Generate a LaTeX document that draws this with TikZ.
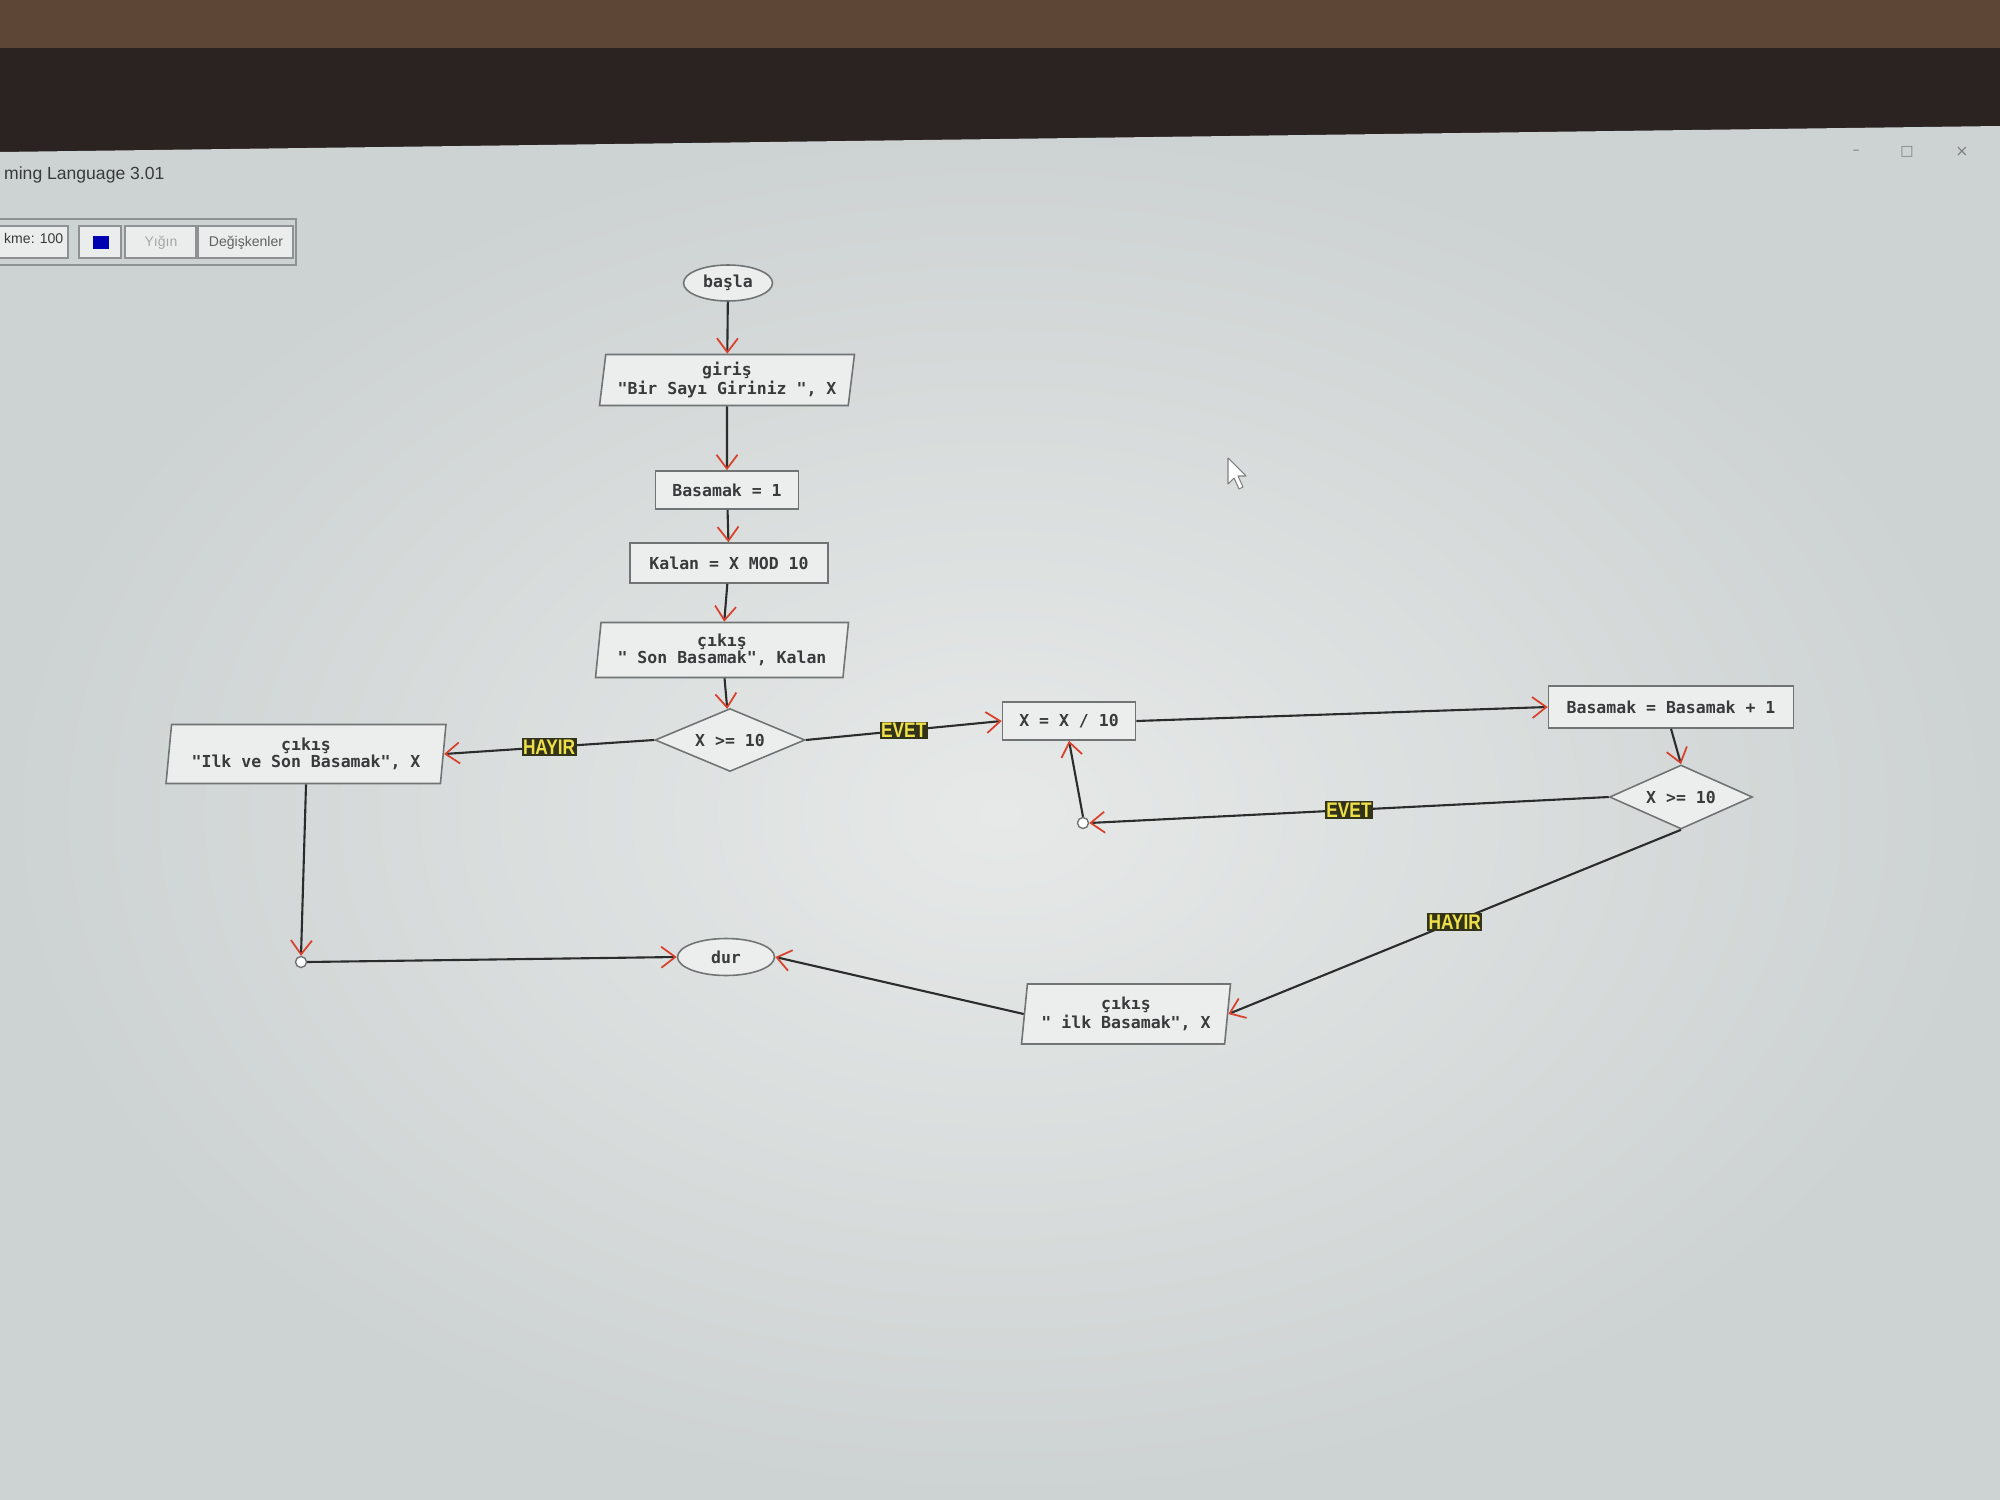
\documentclass[tikz,border=0pt]{standalone}
\usepackage{fontspec}
\setmainfont{Liberation Sans}
\newfontfamily\chartfont{DejaVu Sans Mono}
\newfontfamily\lblfont[FakeStretch=0.82]{Liberation Sans}
\newfontfamily\symfont{DejaVu Sans}
\usetikzlibrary{shapes.geometric,arrows.meta}

\definecolor{screenin}{HTML}{E6E9E8}
\definecolor{screenout}{HTML}{CDD2D2}
\definecolor{bezel}{HTML}{2A2322}
\definecolor{room}{HTML}{5E4637}
\definecolor{boxfill}{HTML}{ECEEED}
\definecolor{boxline}{HTML}{707474}
\definecolor{txtgray}{HTML}{383B3B}
\definecolor{linegray}{HTML}{2B2D2D}
\definecolor{arrowred}{HTML}{D8412C}
\definecolor{lblbg}{HTML}{33331A}
\definecolor{lblyel}{HTML}{EEE04A}
\definecolor{barline}{HTML}{8E9292}

\tikzset{
  proc/.style={draw=boxline, line width=0.9pt, fill=boxfill, rectangle, inner sep=0pt,
    font=\chartfont\bfseries\fontsize{9.4}{9.4}\selectfont, text=txtgray},
  io/.style={proc, trapezium, trapezium left angle=80, trapezium right angle=100,
    trapezium stretches body, align=center},
  term/.style={proc, ellipse},
  cond/.style={proc, diamond, aspect=2.4},
  junc/.style={circle, draw=boxline, line width=0.8pt, fill=white, minimum size=0.22cm, inner sep=0pt},
  flow/.style={draw=linegray, line width=1.2pt,
    -{Straight Barb[color=arrowred, length=0.28cm, width=0.42cm, line width=1pt]}},
  yesno/.style={fill=lblbg, text=lblyel, inner xsep=0.8pt, inner ysep=0.8pt,
    font=\lblfont\bfseries\fontsize{12}{12}\selectfont},
  tbtn/.style={draw=barline, line width=0.8pt, fill=screenin!80!white}
}

\begin{document}
\begin{tikzpicture}[x=0.02cm, y=-0.02cm]
  \useasboundingbox (0,0) rectangle (2000,1500);

  % room, bezel and screen
  \fill[room] (0,0) rectangle (2000,50);
  \fill[bezel] (0,48) rectangle (2000,155);
  \shade[inner color=screenin, outer color=screenout] (0,152) -- (2000,126) -- (2000,1500) -- (0,1500) -- cycle;

  % window title and toolbar
  \node[anchor=west, text=txtgray, font=\fontsize{10}{10}\selectfont] (title) at (-2,175) {ming Language 3.01};
  \node[text=gray, font=\symfont\fontsize{8}{8}\selectfont] (wmin) at (1856,152) {–};
  \node[text=gray, font=\symfont\fontsize{8}{8}\selectfont] (wmax) at (1907,152) {□};
  \node[text=gray, font=\symfont\fontsize{9}{9}\selectfont] (wclose) at (1962,152) {×};
  \draw[barline, line width=0.8pt] (-2,219) rectangle (296,265);
  \draw[tbtn] (-2,226) rectangle (68,258);
  \node[anchor=west, text=txtgray, font=\fontsize{8}{8}\selectfont] (speed) at (-2,238) {kme: 100};
  \draw[tbtn] (79,226) rectangle (121,258);
  \fill[blue!70!black] (93,236) rectangle (109,249);
  \draw[tbtn] (125,226) rectangle (196,258);
  \node[text=gray!70, font=\fontsize{8}{8}\selectfont] (stack) at (161,243) {Yığın};
  \draw[tbtn] (198,226) rectangle (293,258);
  \node[text=txtgray!80, font=\fontsize{8}{8}\selectfont] (vars) at (246,243) {Değişkenler};

  % mouse pointer
  \draw[gray, fill=white, line width=0.6pt, line join=round] (1228,458) -- (1228,484) -- (1234,478)
    -- (1239,489) -- (1243,487) -- (1238,476) -- (1246,476) -- cycle;

  % flowchart nodes
  \node[term, minimum width=1.78cm, minimum height=0.72cm] (basla) at (728,283) {başla};
  \node[io, minimum width=5.1cm, minimum height=1.02cm] (giris) at (727,380) {giriş\\"Bir Sayı Giriniz ", X};
  \node[proc, minimum width=2.86cm, minimum height=0.76cm] (bas1) at (727,490) {Basamak = 1};
  \node[proc, minimum width=3.96cm, minimum height=0.8cm] (kalan) at (729,563) {Kalan = X MOD 10};
  \node[io, minimum width=5.06cm, minimum height=1.1cm] (son) at (722,650) {çıkış\\" Son Basamak", Kalan};
  \node[cond, minimum width=3cm, minimum height=1.26cm] (dec1) at (730,740) {X >= 10};
  \node[io, minimum width=5.6cm, minimum height=1.18cm] (ilkson) at (306,754) {çıkış\\"Ilk ve Son Basamak", X};
  \node[proc, minimum width=2.66cm, minimum height=0.76cm] (div) at (1069,721) {X = X / 10};
  \node[proc, minimum width=4.9cm, minimum height=0.84cm] (inc) at (1671,707) {Basamak = Basamak + 1};
  \node[cond, minimum width=2.86cm, minimum height=1.28cm] (dec2) at (1681,797) {X >= 10};
  \node[junc] (j1) at (1083,823) {};
  \node[io, minimum width=4.18cm, minimum height=1.2cm] (ilk) at (1126,1014) {çıkış\\" ilk Basamak", X};
  \node[term, minimum width=1.94cm, minimum height=0.74cm] (dur) at (726,957) {dur};
  \node[junc] (j2) at (301,962) {};

  % main column
  \draw[flow] (basla) -- (giris);
  \draw[flow] (giris) -- (bas1);
  \draw[flow] (bas1) -- (kalan);
  \draw[flow] (kalan) -- (son);
  \draw[flow] (son) -- (dec1);

  % branches
  \draw[flow] (dec1.west) -- (ilkson.east) node[yesno, midway] (no1) {HAYIR};
  \draw[flow] (dec1.east) -- (div.west) node[yesno, midway] (yes1) {EVET};
  \draw[flow] (div.east) -- (inc.west);
  \draw[flow] (inc.south) -- (dec2.north);
  \draw[flow] (dec2.west) -- (j1.east) node[yesno, midway] (yes2) {EVET};
  \draw[flow] (j1.north) -- (div.south);
  \draw[flow] (dec2.south) -- (ilk.east) node[yesno, midway] (no2) {HAYIR};
  \draw[flow] (ilk.west) -- (dur.east);
  \draw[flow] (ilkson.south) -- (j2.north);
  \draw[flow] (j2.east) -- (dur.west);

\end{tikzpicture}
\end{document}
